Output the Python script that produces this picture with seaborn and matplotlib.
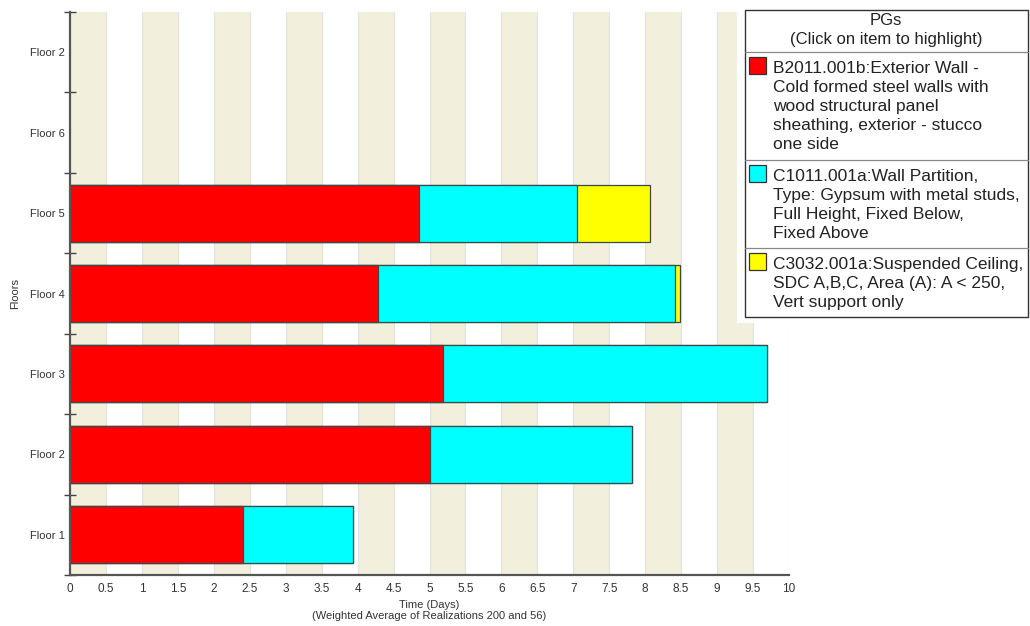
import numpy as np
import pandas as pd
import matplotlib
matplotlib.use("Agg")
import matplotlib.pyplot as plt
from matplotlib.patches import Rectangle
from matplotlib.ticker import FixedLocator
import seaborn as sns

# Floors listed top to bottom, repair time (days) per performance group
floors = ["Floor 2", "Floor 6", "Floor 5", "Floor 4", "Floor 3", "Floor 2", "Floor 1"]
exterior_wall = [0.0, 0.0, 4.86, 4.28, 5.19, 5.01, 2.41]
wall_partition = [0.0, 0.0, 2.19, 4.14, 4.51, 2.81, 1.52]
susp_ceiling = [0.0, 0.0, 1.01, 0.06, 0.0, 0.0, 0.0]

x_ticks = [i * 0.5 for i in range(21)]
x_tick_labels = ["0", "0.5", "1", "1.5", "2", "2.5", "3", "3.5", "4", "4.5", "5",
                 "5.5", "6", "6.5", "7", "7.5", "8", "8.5", "9", "9.5", "10"]

legend_title = "PGs\n(Click on item to highlight)"
legend_items = [
    "B2011.001b:Exterior Wall -\nCold formed steel walls with\nwood structural panel\nsheathing, exterior - stucco\none side",
    "C1011.001a:Wall Partition,\nType: Gypsum with metal studs,\nFull Height, Fixed Below,\nFixed Above",
    "C3032.001a:Suspended Ceiling,\nSDC A,B,C, Area (A): A < 250,\nVert support only",
]
colors = ["#ff0000", "#00ffff", "#ffff00"]

sns.set_theme(style="white")
plt.rcParams["font.family"] = ["Liberation Sans", "DejaVu Sans"]

W, H = 1030, 626
fig = plt.figure(figsize=(W / 100, H / 100), dpi=100)
fig.patch.set_facecolor("white")

ax = fig.add_axes([70 / W, 1 - 575 / H, (789 - 70) / W, (575 - 12) / H])
ax.set_facecolor("white")

# stacked bars: draw cumulative totals from the outermost segment inwards
df = pd.DataFrame({
    "row": list(range(len(floors))),
    "ext": exterior_wall,
    "part": wall_partition,
    "ceil": susp_ceiling,
})
df["c1"] = df["ext"]
df["c2"] = df["ext"] + df["part"]
df["c3"] = df["c2"] + df["ceil"]
df = df[df["c3"] > 0]

for col, color in zip(["c3", "c2", "c1"], colors[::-1]):
    sns.barplot(data=df, x=col, y="row", orient="h", color=color, saturation=1,
                order=list(range(len(floors))),
                width=0.71, edgecolor="#3a4a4a", linewidth=0.9, ax=ax, zorder=3)

# alternating background bands
for k in range(10):
    ax.axvspan(k, k + 0.5, color="#f2f0dc", zorder=0, lw=0)
for xv in x_ticks:
    ax.axvline(xv, color="#e2e2e2", lw=0.8, zorder=0.5)

ax.set_xlim(0, 10)
ax.set_ylim(len(floors) - 0.5, -0.5)

ax.set_xticks(x_ticks)
ax.set_xticklabels(x_tick_labels, fontsize=8.5, color="#333333")
ax.set_yticks(range(len(floors)))
ax.set_yticklabels(floors, fontsize=8, color="#333333")
ax.yaxis.set_minor_locator(FixedLocator(np.arange(-0.5, len(floors), 1.0)))
ax.tick_params(axis="x", which="major", direction="inout", length=7, width=1,
               color="#444444", pad=2)
ax.tick_params(axis="y", which="major", length=0, pad=4)
ax.tick_params(axis="y", which="minor", direction="inout", length=9, width=1,
               color="#444444", left=True)

for s in ["top", "right"]:
    ax.spines[s].set_visible(False)
for s in ["left", "bottom"]:
    ax.spines[s].set_color("#555555")
    ax.spines[s].set_linewidth(1.6)
    ax.spines[s].set_zorder(5)

ax.set_xlabel("Time (Days)\n(Weighted Average of Realizations 200 and 56)",
              fontsize=8, color="#333333", labelpad=4, linespacing=1.1)
ax.set_ylabel("Floors", fontsize=8, color="#333333")
ax.yaxis.set_label_coords(-50 / (789 - 70), 0.5)

# legend panel in pixel coordinates
lax = fig.add_axes([737 / W, 1 - 323 / H, (W - 737) / W, 323 / H])
lax.set_xlim(737, W)
lax.set_ylim(323, 0)
lax.axis("off")
lax.add_patch(Rectangle((737, 0), W - 737, 323, facecolor="white", edgecolor="none", zorder=0))
lax.add_patch(Rectangle((745, 10), 283, 307, facecolor="white", edgecolor="#333333",
                        lw=1.0, zorder=1))

lax.text(886, 30, legend_title, ha="center", va="center", fontsize=12,
         color="#222222", linespacing=1.4, zorder=2)

section_tops = [52, 160, 248]
for top, label, color in zip(section_tops, legend_items, colors):
    lax.plot([745, 1028], [top, top], color="#888888", lw=0.9, zorder=2)
    lax.add_patch(Rectangle((749, top + 5), 17, 17, facecolor=color,
                            edgecolor="#333333", lw=0.9, zorder=2))
    lax.text(773, top + 9, label, ha="left", va="top", fontsize=12.5,
             color="#222222", linespacing=1.34, zorder=2)

fig.savefig("out.png", dpi=100, facecolor="white")
